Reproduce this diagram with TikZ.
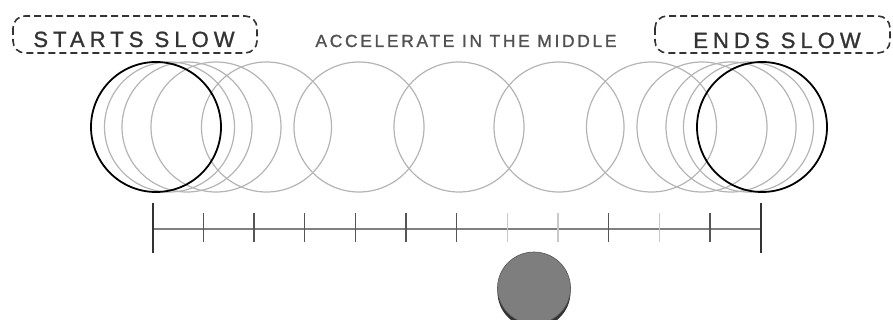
\documentclass[tikz,border=0pt]{standalone}
\usepackage{fontspec}
\usetikzlibrary{calc}
\setmainfont{Liberation Sans}
\newfontfamily\slowfont[LetterSpace=23, FakeBold=1.2]{Liberation Sans}
\newfontfamily\midfont[LetterSpace=15, FakeBold=1.2]{Liberation Sans}
\definecolor{ink}{HTML}{333333}
\definecolor{ghostgray}{HTML}{B4B4B4}
\definecolor{tickgray}{HTML}{555555}
\definecolor{lighttick}{HTML}{C8C8C8}
\definecolor{coingray}{HTML}{7E7E7E}
\begin{document}
\begin{tikzpicture}[x=1pt, y=-1pt,
  ghost/.style={draw=ghostgray, line width=1.2pt},
  keyframe/.style={draw=black, line width=1.8pt},
  slowbox/.style={draw=ink, dash pattern=on 7pt off 4pt, line width=1.6pt, rounded corners=12pt},
  bigtext/.style={text=ink, font=\slowfont\fontsize{22}{22}\selectfont, anchor=base, inner sep=0pt},
  smalltext/.style={text=ink!85, font=\midfont\fontsize{17.5}{17.5}\selectfont, anchor=base, inner sep=0pt}]
\useasboundingbox (0,0) rectangle (893,320);
% labels
\draw[slowbox] (13,16) rectangle (257,53);
\node[bigtext] (starts) at (134,47) {STARTS SLOW};
\node[smalltext] (middle) at (466,47) {ACCELERATE IN THE MIDDLE};
\draw[slowbox] (655,16) rectangle (890,53);
\node[bigtext] (ends) at (777,48) {ENDS SLOW};
% in-between frames
\foreach \cx in {169.5,187,216,266.5,359,459,559,651.5,702,731,748.5}
  \draw[ghost] (\cx,127) circle (65pt);
\draw[keyframe] (156,127) circle (65pt);
\draw[keyframe] (762,127) circle (65pt);
% timeline
\coordinate (tstart) at (152.7,229);
\coordinate (tend) at (760.7,229);
\draw[draw=gray, line width=1.8pt] (tstart) -- (tend);
\foreach \i in {1,...,11}{
  \ifnum\i=7 \def\tc{lighttick}\else\ifnum\i=8 \def\tc{lighttick}\else\ifnum\i=10 \def\tc{lighttick}\else\def\tc{tickgray}\fi\fi\fi
  \draw[draw=\tc, line width=1.2pt] ($(tstart)+(\i*50.67,-16)$) -- ++(0,29);
}
\draw[draw=ink, line width=1.8pt] ($(tstart)+(0,-26)$) -- ($(tstart)+(0,24)$);
\draw[draw=ink, line width=1.8pt] ($(tend)+(0,-26)$) -- ($(tend)+(0,24)$);
% the ball
\fill[ink] (534,292) ellipse [x radius=36.5pt, y radius=36pt];
\filldraw[fill=coingray, draw=tickgray, line width=0.6pt] (534,288) ellipse [x radius=36.5pt, y radius=36pt];
\end{tikzpicture}
\end{document}
